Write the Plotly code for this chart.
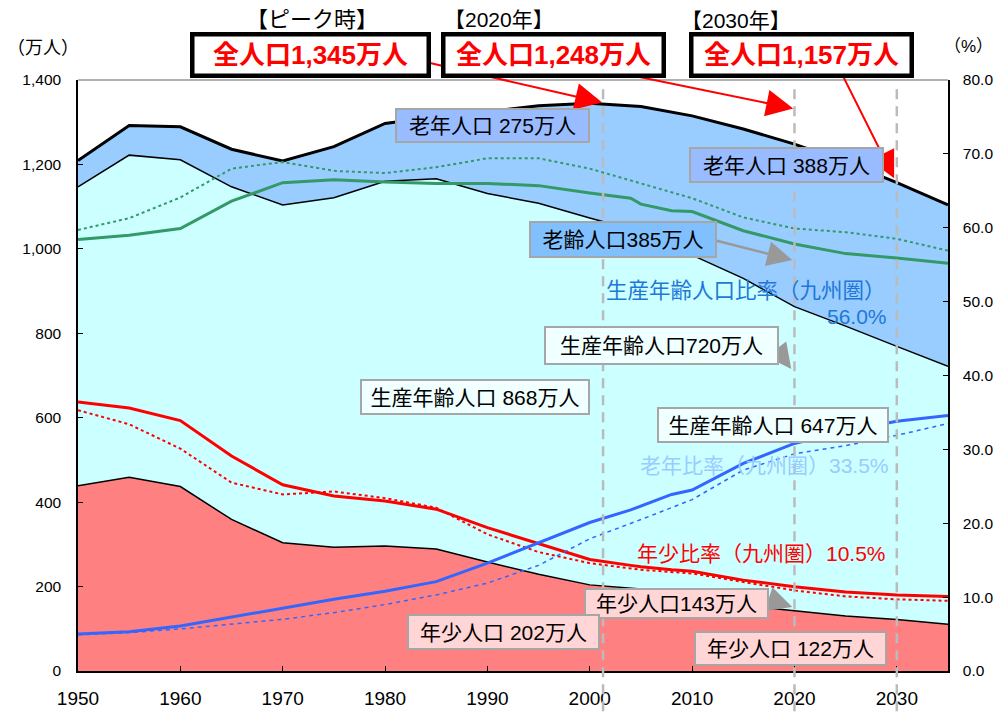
import plotly.graph_objects as go
import numpy as np

# ---------------- data ----------------
pop_years = [1950, 1955, 1960, 1965, 1970, 1975, 1980, 1985, 1990, 1995, 2000,
             2005, 2010, 2015, 2020, 2025, 2030, 2035]
youth_pop = [439, 459, 437, 359, 304, 293, 296, 289, 258, 229, 204,
             194, 172, 155, 143, 130, 122, 111]
working_pop = [708, 763, 774, 788, 800, 828, 864, 877, 873, 879, 869,
               846, 813, 775, 720, 687, 647, 611]
elderly_pop = [62, 70, 78, 89, 104, 121, 137, 147, 194, 231, 272,
               297, 330, 354, 385, 389, 388, 382]

ratio_years = [1950, 1955, 1960, 1965, 1970, 1975, 1980, 1985, 1990, 1995, 2000,
               2004, 2005, 2008, 2010, 2015, 2020, 2025, 2030, 2035]
youth_ratio = [36.4, 35.6, 33.9, 29.1, 25.2, 23.7, 23.0, 21.9, 19.4, 17.2, 15.1,
               14.3, 14.1, 13.7, 13.5, 12.3, 11.4, 10.7, 10.3, 10.1]
working_ratio = [58.4, 59.0, 59.9, 63.6, 66.1, 66.5, 66.2, 66.0, 66.0, 65.7, 64.7,
                 64.0, 63.2, 62.3, 62.2, 59.6, 57.8, 56.5, 55.9, 55.2]
elderly_ratio = [5.0, 5.3, 6.1, 7.3, 8.6, 9.7, 10.8, 12.1, 14.6, 17.4, 20.1,
                 21.8, 22.3, 23.9, 24.5, 28.1, 30.8, 32.5, 33.8, 34.6]

kyushu_years = [1950, 1955, 1960, 1965, 1970, 1975, 1980, 1985, 1990, 1995, 2000,
                2005, 2010, 2015, 2020, 2025, 2030, 2035]
kyushu_youth = [35.3, 33.4, 30.1, 25.5, 23.9, 24.3, 23.4, 22.1, 18.5, 16.1, 14.6,
                13.7, 13.2, 12.1, 10.9, 10.1, 9.7, 9.5]
kyushu_working = [59.7, 61.3, 64.1, 68.0, 68.9, 67.7, 67.4, 68.2, 69.4, 69.4, 68.0,
                  66.0, 64.0, 61.4, 59.9, 59.4, 58.5, 56.9]
kyushu_elderly = [4.9, 5.2, 5.7, 6.3, 7.0, 7.9, 9.0, 10.3, 11.9, 14.3, 17.9,
                  20.5, 23.2, 27.2, 29.4, 30.5, 31.9, 33.5]

x_ticks = [1950, 1960, 1970, 1980, 1990, 2000, 2010, 2020, 2030]
marker_years = [2001.3, 2020, 2030]

# ---------------- figure ----------------
W, H = 1005, 721
L, R, T, B = 78, 39, 80, 40
PW, PH = W - L - R, H - T - B

def px(x):  # window pixel -> paper x
    return (x - L) / PW

def py(y):  # window pixel -> paper y
    return (H - B - y) / PH

JP = "Liberation Sans, Noto Sans CJK JP"

fig = go.Figure()

fig.add_trace(go.Scatter(x=pop_years, y=youth_pop, stackgroup="pop", mode="lines",
                         line=dict(color="black", width=1.5), fillcolor="#FF8080",
                         hoverinfo="skip"))
fig.add_trace(go.Scatter(x=pop_years, y=working_pop, stackgroup="pop", mode="lines",
                         line=dict(color="black", width=1.5), fillcolor="#CCFFFF",
                         hoverinfo="skip"))
fig.add_trace(go.Scatter(x=pop_years, y=elderly_pop, stackgroup="pop", mode="lines",
                         line=dict(color="black", width=3), fillcolor="#99CCFF",
                         hoverinfo="skip"))

# ratio lines (right axis)
fig.add_trace(go.Scatter(x=kyushu_years, y=kyushu_working, yaxis="y2", mode="lines",
                         line=dict(color="#339966", width=2, dash="dot")))
fig.add_trace(go.Scatter(x=ratio_years, y=working_ratio, yaxis="y2", mode="lines",
                         line=dict(color="#339966", width=3)))
fig.add_trace(go.Scatter(x=kyushu_years, y=kyushu_youth, yaxis="y2", mode="lines",
                         line=dict(color="#FF0000", width=2, dash="dot")))
fig.add_trace(go.Scatter(x=ratio_years, y=youth_ratio, yaxis="y2", mode="lines",
                         line=dict(color="#FF0000", width=3)))
fig.add_trace(go.Scatter(x=kyushu_years, y=kyushu_elderly, yaxis="y2", mode="lines",
                         line=dict(color="#3366FF", width=1.5, dash="4px,4px")))
fig.add_trace(go.Scatter(x=ratio_years, y=elderly_ratio, yaxis="y2", mode="lines",
                         line=dict(color="#3366FF", width=3)))

# dashed vertical reference lines
shapes = []
for yr in marker_years:
    shapes.append(dict(type="line", xref="x", yref="paper", x0=yr, x1=yr,
                       y0=py(722), y1=py(88), layer="above",
                       line=dict(color="#BBBBBB", width=2.5, dash="10px,7px")))
# top frame line
shapes.append(dict(type="line", xref="paper", yref="paper", x0=0, x1=1, y0=1, y1=1,
                   line=dict(color="#999999", width=1.5)))

ann = []

def text(x, y, s, size, color="black", xanchor="center", bold=False):
    ann.append(dict(x=px(x), y=py(y), xref="paper", yref="paper", text=("<b>%s</b>" % s if bold else s),
                    showarrow=False, xanchor=xanchor, yanchor="middle",
                    font=dict(family=JP, size=size, color=color)))

def box(x, y, s, w, h, fill, size=21):
    ann.append(dict(x=px(x), y=py(y), xref="paper", yref="paper", text=s,
                    showarrow=False, xanchor="center", yanchor="middle",
                    width=w, height=h, bgcolor=fill, bordercolor="#A6A6A6",
                    borderwidth=2, borderpad=0,
                    font=dict(family=JP, size=size, color="black")))

def bigbox(x, y, s, w, h):
    ann.append(dict(x=px(x), y=py(y), xref="paper", yref="paper", text="<b>%s</b>" % s,
                    showarrow=False, xanchor="center", yanchor="middle",
                    width=w, height=h, bgcolor="white", bordercolor="black",
                    borderwidth=4.5, borderpad=0,
                    font=dict(family=JP, size=26, color="#FF0000")))

def arrow(x0, y0, x1, y1, color, width, size):
    ann.append(dict(x=px(x1), y=py(y1), xref="paper", yref="paper",
                    ax=x0 - x1, ay=y0 - y1, axref="pixel", ayref="pixel",
                    text="", showarrow=True, arrowhead=2, arrowsize=size,
                    arrowwidth=width, arrowcolor=color, standoff=0))

# headings
text(317, 18, "【ピーク時】", 22)
text(508, 18, "【2020年】", 21)
text(750, 19, "【2030年】", 21)
text(42, 47, "（万人）", 18)
text(987, 46, "（%）", 17)

# red arrows
arrow(435, 62, 613, 103, "#FF0000", 2, 2.7)
arrow(632, 73, 808, 109, "#FF0000", 2, 2.7)
arrow(860, 78, 911, 180, "#FF0000", 2, 2.7)

# gray arrows
arrow(728, 243, 807, 263, "#999999", 2.5, 2.0)
arrow(788, 350, 806, 374, "#999999", 2.5, 2.0)
arrow(780, 607, 807, 616, "#999999", 2.5, 2.0)

bigbox(315.5, 55, "全人口1,345万人", 232, 37)
bigbox(563.5, 55, "全人口1,248万人", 216, 37)
bigbox(816, 55, "全人口1,157万人", 216, 37)

box(501.5, 126.5, "老年人口 275万人", 191, 31, "#99BBFF")
box(801.5, 166, "老年人口 388万人", 191, 32, "#99BBFF")
box(634, 242.5, "老齢人口385万人", 184, 33, "#80C0FF")
box(673.5, 349.5, "生産年齢人口720万人", 231, 35, "#F0FFFF")
box(483, 402, "生産年齢人口 868万人", 226, 32, "#F0FFFF")
box(787, 431, "生産年齢人口 647万人", 228, 32, "#F0FFFF")
box(688.5, 612, "年少人口143万人", 181, 27, "#FFD5D5")
box(512.5, 641, "年少人口 202万人", 189, 32, "#FFD5D5")
box(805.5, 658, "年少人口 122万人", 189, 31, "#FFD5D5")

text(905, 295, "生産年齢人口比率（九州圏）", 21.5, "#1E78D8", xanchor="right")
text(906, 320, "56.0%", 21, "#1E78D8", xanchor="right")
text(908, 472, "老年比率（九州圏）33.5%", 21, "#99CCFF", xanchor="right")
text(905, 562, "年少比率（九州圏）10.5%", 21, "#FF0000", xanchor="right")

fig.update_layout(
    width=W, height=H, autosize=False,
    margin=dict(l=L, r=R, t=T, b=B, pad=0),
    paper_bgcolor="white", plot_bgcolor="white",
    showlegend=False,
    font=dict(family=JP, color="black"),
    xaxis=dict(range=[1950, 2035], tickvals=x_ticks, ticks="inside", ticklen=5,
               tickcolor="black", showline=True, linecolor="black", linewidth=1.5,
               showgrid=False, zeroline=False, tickfont=dict(size=19, family="Liberation Sans"),
               ticklabelstandoff=9),
    yaxis=dict(range=[0, 1400], dtick=200, tickformat=",", ticks="inside", ticklen=5,
               tickcolor="black", showline=True, linecolor="black", linewidth=1.5,
               showgrid=False, zeroline=False, tickfont=dict(size=15.5, family="Liberation Sans"),
               ticklabelstandoff=12),
    yaxis2=dict(range=[0, 80], dtick=10, tickformat=".1f", overlaying="y", side="right",
                ticks="inside", ticklen=5, tickcolor="black", showline=True,
                linecolor="black", linewidth=1.5, showgrid=False, zeroline=False,
                tickfont=dict(size=15.5, family="Liberation Sans"), ticklabelstandoff=10),
    shapes=shapes,
    annotations=ann,
)

post = ("document.body.style.margin='0px';"
        "document.body.style.overflow='hidden';")

fig.write_html("out.html",
               config={"displayModeBar": False, "responsive": False},
               post_script=post)
